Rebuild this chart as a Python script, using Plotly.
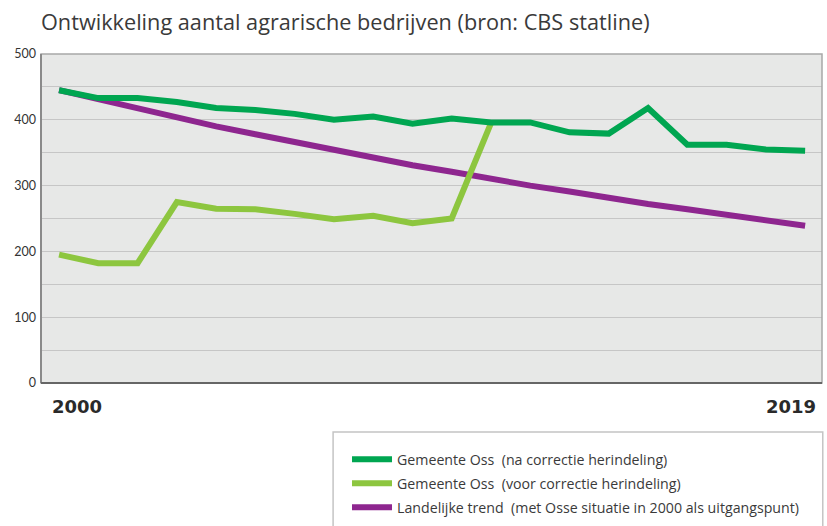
import plotly.graph_objects as go

# Years shown on the horizontal axis
years = list(range(2000, 2020))

# Number of agricultural businesses, Gemeente Oss (after boundary correction)
oss_na_correctie = [445, 433, 433, 427, 418, 415, 409, 400, 405, 394,
                    402, 396, 396, 381, 379, 418, 362, 362, 355, 353]

# Gemeente Oss before boundary correction (series runs 2000-2011)
years_voor = list(range(2000, 2012))
oss_voor_correctie = [195, 182, 182, 275, 265, 264, 257, 249, 254, 243,
                      250, 395]

# National trend, indexed on the Oss situation in 2000
landelijke_trend = [445, 431, 417, 404, 390, 378, 366, 354, 342, 331,
                    321, 310, 300, 291, 281, 272, 264, 255, 247, 239]

# Axis ticks
y_tickvals = [0, 50, 100, 150, 200, 250, 300, 350, 400, 450, 500]
y_ticktext = ["0", "", "100", "", "200", "", "300", "", "400", "", "500"]
x_labels = ["2000", "2019"]

names = [
    "Gemeente Oss  (na correctie herindeling)",
    "Gemeente Oss  (voor correctie herindeling)",
    "Landelijke trend  (met Osse situatie in 2000 als uitgangspunt)",
]
colors = ["#00a651", "#8dc63f", "#8e268f"]

fig = go.Figure()
fig.add_trace(go.Scatter(x=years, y=landelijke_trend, mode="lines", name=names[2],
                         line=dict(color=colors[2], width=6), legendrank=3,
                         legendgroup="c"))
fig.add_trace(go.Scatter(x=years_voor, y=oss_voor_correctie, mode="lines", name=names[1],
                         line=dict(color=colors[1], width=6), legendrank=2,
                         legendgroup="b"))
fig.add_trace(go.Scatter(x=years, y=oss_na_correctie, mode="lines", name=names[0],
                         line=dict(color=colors[0], width=6), legendrank=1,
                         legendgroup="a"))

font_family = "'Open Sans', Lato, sans-serif"

fig.update_layout(
    width=827, height=526,
    margin=dict(l=41, r=5, t=54, b=143, autoexpand=False),
    paper_bgcolor="white",
    plot_bgcolor="#e7e8e7",
    font=dict(family=font_family, color="#333333"),
    title=dict(text="Ontwikkeling aantal agrarische bedrijven (bron: CBS statline)",
               x=0, xref="paper", xanchor="left", y=0.958, yanchor="middle",
               font=dict(size=21.7, color="#3a3a3a", family=font_family)),
    showlegend=True,
    legend=dict(x=0.4196, y=0.1566, xref="container", yref="container",
                xanchor="left", yanchor="top",
                bgcolor="rgba(0,0,0,0)", borderwidth=0,
                font=dict(size=14.2, color="#3a3a3a", family=font_family),
                traceorder="grouped", itemwidth=40, tracegroupgap=2.5),
    xaxis=dict(range=[1999.54, 2019.43], showgrid=False, zeroline=False,
               showticklabels=False, ticks="", fixedrange=True),
    yaxis=dict(range=[0, 500], tickvals=y_tickvals, ticktext=y_ticktext,
               showgrid=True, gridcolor="#c6c6c6", gridwidth=1.3,
               zeroline=False, ticks="", ticklabelstandoff=4,
               tickfont=dict(size=12.5, color="#333333", family="Lato, sans-serif"),
               fixedrange=True),
)

# Plot frame: light border all round, darker axis lines left and bottom
fig.add_shape(type="rect", xref="paper", yref="paper", x0=0, x1=1, y0=0, y1=1,
              line=dict(color="#a8a8a8", width=1.5), layer="above")
fig.add_shape(type="line", xref="paper", yref="paper", x0=0, x1=0, y0=0, y1=1,
              line=dict(color="#8a8a8a", width=2), layer="above")
fig.add_shape(type="line", xref="paper", yref="paper", x0=0, x1=1, y0=0, y1=0,
              line=dict(color="#666666", width=2), layer="above")

# Legend frame, running off the bottom of the page
fig.add_shape(type="rect", xref="paper", yref="paper",
              x0=0.374, x1=1.001, y0=-0.149, y1=-0.6,
              line=dict(color="#c4c4c4", width=1.5))

# First and last year labels below the axis
fig.add_annotation(x=years[0], y=0, xref="x", yref="paper", text=x_labels[0],
                   showarrow=False, xshift=18, yshift=-23,
                   font=dict(size=18, color="#2a2a2a", family="DejaVu Sans"),
                   xanchor="center", yanchor="middle")
fig.add_annotation(x=years[-1], y=0, xref="x", yref="paper", text=x_labels[1],
                   showarrow=False, xshift=-14, yshift=-23,
                   font=dict(size=18, color="#2a2a2a", family="DejaVu Sans"),
                   xanchor="center", yanchor="middle")

fig.update_annotations(font_weight="bold")

fig.write_html("out.html")
